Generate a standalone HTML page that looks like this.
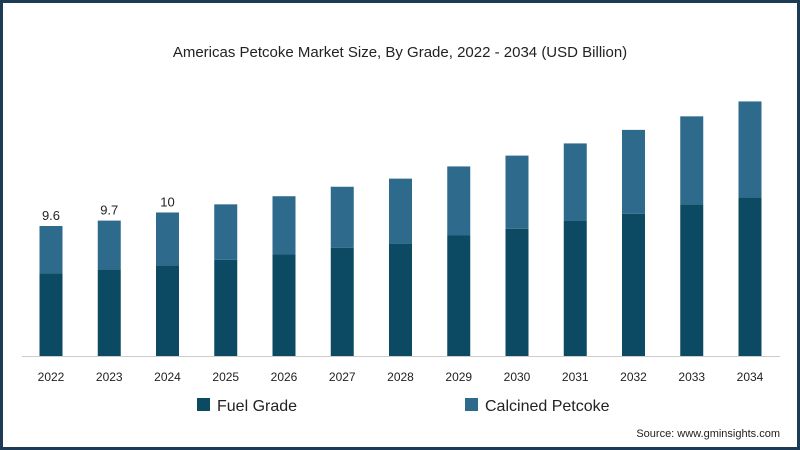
<!DOCTYPE html>
<html><head><meta charset="utf-8"><style>
html,body{margin:0;padding:0;background:#fff}
#frame{position:absolute;left:0;top:0;width:794px;height:444px;border:3px solid #1d3a56;background:#fff;font-family:"Liberation Sans",sans-serif}
svg{position:absolute;left:0;top:0}
</style></head><body>
<div id="frame"></div>
<svg id="chart" width="800" height="450">
<text x="400" y="57" text-anchor="middle" font-family="Liberation Sans, sans-serif" font-size="15" fill="#222">Americas Petcoke Market Size, By Grade, 2022 - 2034 (USD Billion)</text>
<line x1="22" y1="356.5" x2="780" y2="356.5" stroke="#ccc" stroke-width="1"/>
<g id="bars"></g>
<g>
<rect x="197" y="398" width="13" height="13" fill="#0b4a62"/>
<text x="217" y="411" font-family="Liberation Sans, sans-serif" font-size="16" fill="#222">Fuel Grade</text>
<rect x="465" y="398" width="13" height="13" fill="#2d6a8c"/>
<text x="485" y="411" font-family="Liberation Sans, sans-serif" font-size="16" fill="#222">Calcined Petcoke</text>
</g>
<text x="780" y="437" text-anchor="end" font-family="Liberation Sans, sans-serif" font-size="11" fill="#222">Source: www.gminsights.com</text>
</svg>
<script>
const categories=["2022","2023","2024","2025","2026","2027","2028","2029","2030","2031","2032","2033","2034"];
const fuelGrade=[6.1,6.4,6.7,7.1,7.5,8.0,8.3,8.9,9.4,10.0,10.5,11.2,11.7];
const calcinedPetcoke=[3.5,3.6,3.9,4.1,4.3,4.5,4.8,5.1,5.4,5.7,6.2,6.5,7.1];
const valueLabels=["9.6","9.7","10","","","","","","","","","",""];
const base=356, pxPerUnit=13.54, x0=51, step=58.25, bw=23;
const ns="http://www.w3.org/2000/svg";
const g=document.getElementById('bars');
function xs(i){return x0+i*step;}
function ys(v){return base-v*pxPerUnit;}
categories.forEach((c,i)=>{
  const f=fuelGrade[i], k=calcinedPetcoke[i];
  const r1=document.createElementNS(ns,'rect');
  r1.setAttribute('x',xs(i)-bw/2);r1.setAttribute('y',ys(f));r1.setAttribute('width',bw);r1.setAttribute('height',base-ys(f));r1.setAttribute('fill','#0b4a62');
  
  
  g.appendChild(r1);
  const r2=document.createElementNS(ns,'rect');
  r2.setAttribute('x',xs(i)-bw/2);r2.setAttribute('y',ys(f+k));r2.setAttribute('width',bw);r2.setAttribute('height',ys(f)-ys(f+k));r2.setAttribute('fill','#2d6a8c');
  
  
  g.appendChild(r2);
  const t=document.createElementNS(ns,'text');
  t.setAttribute('x',xs(i));t.setAttribute('y',381);t.setAttribute('text-anchor','middle');t.setAttribute('font-family','Liberation Sans, sans-serif');t.setAttribute('font-size','12');t.setAttribute('fill','#222');
  t.textContent=c;
  
  
  g.appendChild(t);
  if(valueLabels[i]){
    const v=document.createElementNS(ns,'text');
    v.setAttribute('x',xs(i));v.setAttribute('y',ys(f+k)-6);v.setAttribute('text-anchor','middle');v.setAttribute('font-family','Liberation Sans, sans-serif');v.setAttribute('font-size','13');v.setAttribute('fill','#222');
    v.textContent=valueLabels[i];
    
    
    g.appendChild(v);
  }
});
</script>
</body></html>
